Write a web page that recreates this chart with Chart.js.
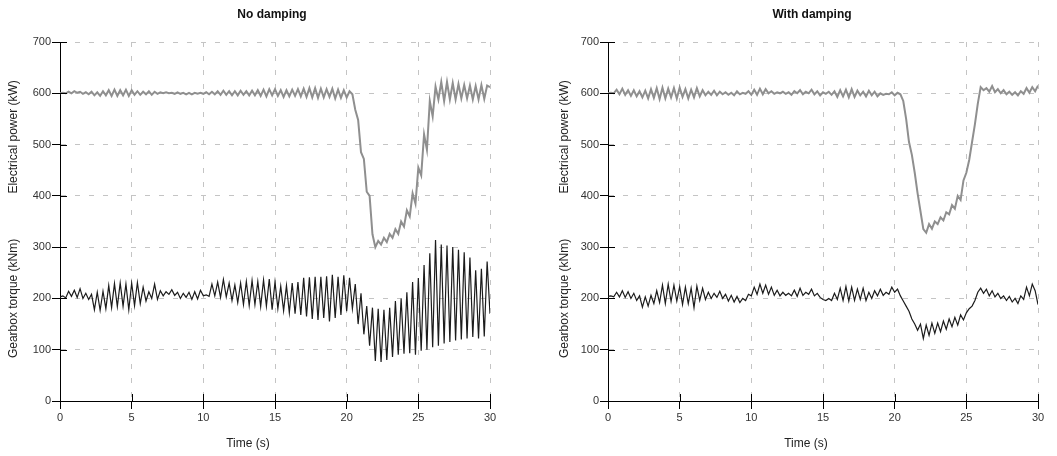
<!DOCTYPE html>
<html>
<head>
<meta charset="utf-8">
<script src="https://cdn.jsdelivr.net/npm/chart.js@4.4.0/dist/chart.umd.min.js"></script>
<style>
  body { margin: 0; background: #fff; }
  #wrap { position: relative; width: 1057px; height: 456px; }
  canvas { position: absolute; top: 0; }
  #left { left: 0; }
  #right { left: 528px; }
</style>
</head>
<body>
<div id="wrap">
  <canvas id="left" width="528" height="456"></canvas>
  <canvas id="right" width="529" height="456"></canvas>
</div>
<script>
//-------------------------------------------------------------------
// DATA (one sample every 0.2 s, from 0 to 30 s)
const sampleStep = 0.2;

const xTicks = [0, 5, 10, 15, 20, 25, 30];
const yTicks = [0, 100, 200, 300, 400, 500, 600, 700];

const panelTitles = ['No damping', 'With damping'];
const xTitle = 'Time (s)';
const yTitles = ['Electrical power (kW)', 'Gearbox torque (kNm)'];

// No damping - electrical power (kW)
const powerNoDamping = [
  600, 601, 600, 603, 600, 604, 601, 603, 599, 602,
  598, 603, 596, 602, 595, 604, 596, 606, 595, 607,
  595, 606, 596, 607, 595, 606, 597, 604, 597, 603,
  598, 604, 597, 603, 599, 602, 600, 602, 600, 601,
  599, 602, 599, 601, 598, 601, 598, 601, 599, 601,
  599, 602, 598, 603, 598, 604, 597, 605, 597, 604,
  596, 604, 596, 605, 597, 604, 596, 605, 596, 606,
  595, 607, 594, 608, 596, 608, 595, 606, 593, 606,
  594, 607, 595, 608, 594, 609, 593, 610, 592, 610,
  591, 609, 592, 608, 593, 609, 590, 607, 591, 606,
  592, 604, 598, 568, 548, 485, 472, 408, 400, 325,
  300, 312, 305, 318, 310, 326, 318, 335, 326, 350,
  340, 372, 360, 405, 385, 455, 440, 520, 490, 585,
  555, 613, 588, 622, 585, 622, 588, 620, 588, 618,
  590, 616, 590, 615, 588, 614, 588, 616, 589, 615,
  612
];

// No damping - gearbox torque (kNm)
const torqueNoDamping = [
  203, 205, 201, 214, 204, 216, 202, 219, 200, 210,
  198, 208, 178, 212, 177, 214, 180, 225, 182, 229,
  184, 230, 185, 228, 178, 230, 186, 231, 190, 222,
  195, 213, 200, 228, 198, 215, 205, 213, 208, 217,
  206, 212, 200, 210, 202, 212, 198, 213, 199, 216,
  205, 207, 204, 228, 205, 232, 202, 237, 203, 230,
  196, 226, 192, 230, 188, 233, 186, 235, 188, 233,
  184, 236, 185, 238, 178, 232, 180, 224, 176, 225,
  172, 230, 170, 232, 168, 240, 165, 241, 160, 242,
  158, 242, 162, 243, 155, 246, 162, 242, 168, 245,
  175, 240, 180, 228, 150, 210, 130, 185, 108, 182,
  78, 180, 76, 178, 80, 182, 86, 195, 90, 200,
  92, 212, 93, 232, 90, 240, 98, 265, 100, 288,
  105, 314, 108, 305, 112, 303, 115, 300, 118, 295,
  120, 290, 122, 280, 125, 255, 122, 258, 126, 272,
  170
];

// With damping - electrical power (kW)
const powerWithDamping = [
  600, 601, 600, 607, 598, 609, 597, 606, 595, 606,
  594, 604, 592, 605, 590, 608, 591, 610, 589, 611,
  590, 609, 592, 610, 590, 611, 593, 608, 590, 607,
  592, 610, 594, 606, 596, 603, 597, 605, 596, 603,
  598, 602, 597, 601, 596, 604, 598, 601, 599, 604,
  597, 607, 597, 609, 598, 608, 600, 604, 599, 602,
  600, 603, 599, 602, 597, 604, 600, 606, 598, 603,
  600, 607, 598, 604, 596, 602, 599, 603, 597, 604,
  593, 606, 594, 607, 592, 608, 593, 605, 596, 603,
  594, 605, 596, 603, 594, 600, 597, 599, 598, 602,
  596, 601, 598, 585, 550, 505, 480, 445, 405, 370,
  335, 328, 345, 336, 350, 345, 358, 352, 368, 364,
  382, 375, 400, 392, 430, 445, 470, 505, 540, 580,
  612, 606, 610, 603, 614, 602, 608, 600, 606, 598,
  603, 597, 602, 596, 604, 599, 610, 601, 612, 604,
  615
];

// With damping - gearbox torque (kNm)
const torqueWithDamping = [
  204, 205, 203, 212, 203, 215, 202, 213, 200, 210,
  196, 205, 183, 203, 185, 206, 190, 215, 192, 226,
  190, 228, 194, 226, 195, 223, 188, 222, 190, 220,
  182, 224, 196, 220, 198, 212, 200, 210, 202, 214,
  200, 208, 195, 206, 193, 204, 192, 200, 196, 208,
  205, 222, 208, 228, 210, 226, 208, 222, 206, 216,
  205, 212, 206, 210, 205, 216, 204, 220, 206, 212,
  208, 218, 205, 210, 202, 198, 196, 200, 196, 210,
  198, 220, 196, 223, 195, 222, 196, 218, 198, 220,
  196, 212, 200, 215, 205, 218, 206, 212, 208, 222,
  212, 218, 205, 195, 185, 175, 160, 150, 138, 150,
  122, 148, 128, 152, 132, 152, 135, 156, 140, 160,
  145, 163, 148, 168, 158, 172, 180, 185, 196, 212,
  220, 210, 218, 205, 215, 203, 210, 200, 205, 196,
  204, 193, 200, 190, 205, 198, 222, 205, 228, 215,
  188
];

//-------------------------------------------------------------------
// HELPERS
const FONT = '"Liberation Sans", Arial, Helvetica, sans-serif';

const toPoints = (values) => values.map((v, i) => ({ x: i * sampleStep, y: v }));

// titles + inner half of the tick marks
const panelText = {
  id: 'panelText',
  afterDraw(chart, args, opts) {
    const ctx = chart.ctx;
    const x = chart.scales.x;
    const y = chart.scales.y;
    ctx.save();

    ctx.strokeStyle = '#000';
    ctx.lineWidth = 1;
    ctx.beginPath();
    xTicks.forEach(v => {
      const px = Math.round(x.getPixelForValue(v)) + 0.5;
      ctx.moveTo(px, y.bottom);
      ctx.lineTo(px, y.bottom - 7);
    });
    yTicks.forEach(v => {
      const py = Math.round(y.getPixelForValue(v)) + 0.5;
      ctx.moveTo(x.left, py);
      ctx.lineTo(x.left + 7, py);
    });
    ctx.stroke();

    ctx.textAlign = 'center';
    ctx.textBaseline = 'middle';
    ctx.fillStyle = '#111';
    ctx.font = 'bold 12px ' + FONT;
    ctx.fillText(opts.title, opts.titleX, 15);

    ctx.font = '12px ' + FONT;
    ctx.fillStyle = '#222';
    ctx.fillText(xTitle, opts.timeX, 444);

    // two titles stacked on the same y axis
    [[yTitles[0], 515], [yTitles[1], 200]].forEach(([txt, v]) => {
      ctx.save();
      ctx.translate(opts.yTitleX, y.getPixelForValue(v));
      ctx.rotate(-Math.PI / 2);
      ctx.fillText(txt, 0, 0);
      ctx.restore();
    });
    ctx.restore();
  }
};

function makePanel(canvasId, power, torque, text, padLeft, padRight) {
  return new Chart(document.getElementById(canvasId), {
    type: 'line',
    data: {
      datasets: [
        {
          label: 'Electrical power',
          data: toPoints(power),
          borderColor: '#8f8f8f',
          borderWidth: 2,
          pointRadius: 0,
          tension: 0
        },
        {
          label: 'Gearbox torque',
          data: toPoints(torque),
          borderColor: '#1c1c1c',
          borderWidth: 1.2,
          pointRadius: 0,
          tension: 0
        }
      ]
    },
    options: {
      responsive: false,
      animation: false,
      layout: { padding: { left: padLeft, right: padRight, top: 42, bottom: 25 } },
      plugins: {
        legend: { display: false },
        tooltip: { enabled: false },
        panelText: text
      },
      scales: {
        x: {
          type: 'linear',
          min: 0,
          max: 30,
          afterBuildTicks: axis => { axis.ticks = xTicks.map(v => ({ value: v })); },
          afterFit: axis => { axis.height = 30; },
          ticks: { color: '#333', font: { family: FONT, size: 11 }, padding: 2, maxRotation: 0 },
          grid: { color: '#c4c4c4', tickColor: '#000', tickLength: 8 },
          border: { color: '#000', width: 1, dash: [5, 9] }
        },
        y: {
          min: 0,
          max: 700,
          afterBuildTicks: axis => { axis.ticks = yTicks.map(v => ({ value: v })); },
          afterFit: axis => { axis.width = 40; },
          ticks: { color: '#333', font: { family: FONT, size: 11 }, padding: 1 },
          grid: { color: '#c4c4c4', tickColor: '#000', tickLength: 8 },
          border: { color: '#000', width: 1, dash: [5, 9] }
        }
      }
    },
    plugins: [panelText]
  });
}

//-------------------------------------------------------------------
// PANELS
makePanel('left', powerNoDamping, torqueNoDamping,
  { title: panelTitles[0], titleX: 272, timeX: 248, yTitleX: 14 }, 20, 38);

makePanel('right', powerWithDamping, torqueWithDamping,
  { title: panelTitles[1], titleX: 284, timeX: 278, yTitleX: 37 }, 40, 19);
</script>
</body>
</html>
